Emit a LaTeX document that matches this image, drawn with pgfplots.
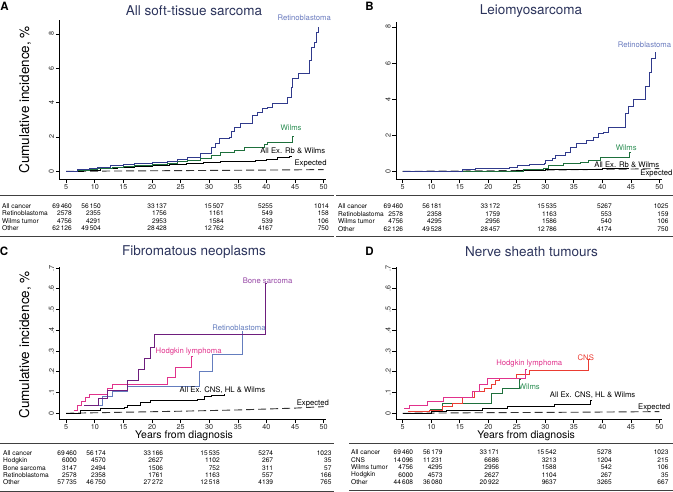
\documentclass[border=0pt]{standalone}
\usepackage{fontspec}
\setmainfont{TeX Gyre Heros}
\usepackage{pgfplots}
\pgfplotsset{compat=1.18}
\definecolor{ttl}{RGB}{44,52,92}
\definecolor{retline}{RGB}{48,58,140}
\definecolor{retlab}{RGB}{105,122,190}
\definecolor{retC}{RGB}{100,125,190}
\definecolor{wline}{RGB}{30,112,60}
\definecolor{wlab}{RGB}{40,140,80}
\definecolor{boneline}{RGB}{110,30,125}
\definecolor{bonelab}{RGB}{150,70,165}
\definecolor{hod}{RGB}{225,50,140}
\definecolor{cns}{RGB}{235,60,50}
\pgfplotsset{
 panel/.style={
  scale only axis, anchor=south west,
  axis lines=left, axis line style={-, line width=0.7pt, black},
  xmin=3.8, xmax=50.4,
  xtick={5,10,...,50}, xticklabels={5,10,15,20,25,30,35,40,45,50},
  tick align=outside, tick style={black, line width=0.6pt}, major tick length=3.5pt,
  ticklabel style={font=\fontsize{7.2}{8}\selectfont, text=black!85, inner sep=1.5pt},
  yticklabel style={rotate=90, anchor=south},
  clip=false,
  every axis plot/.append style={line width=0.85pt},
 },
 ylab/.style={ylabel={Cumulative incidence, \%}, ylabel style={at={(axis description cs:-0.1286,#1)}, anchor=center, rotate=0, font=\fontsize{13.5}{15}\selectfont}},
 xlab/.style={xlabel={Years from diagnosis}, xlabel style={at={(axis description cs:#1,-0.109)}, anchor=center, font=\fontsize{10.5}{12}\selectfont}},
}
\tikzset{
 lab/.style={font=\fontsize{7.7}{9}\selectfont, inner sep=0pt},
 tabf/.style={font=\fontsize{6.6}{7}\selectfont, inner sep=0pt},
 ttlf/.style={font=\fontsize{13.5}{15}\selectfont, text=ttl, inner sep=0pt},
 letf/.style={font=\fontsize{11.5}{13}\selectfont\bfseries, inner sep=0pt},
 expd/.style={black!80, line width=0.9pt, dash pattern=on 8pt off 4pt},
}
\newcommand\TRow[8]{%
 \node[tabf,anchor=west] at (\lx,{492-#1}) {#2};
 \node[tabf,anchor=east] at (\ca,{492-#1}) {#3};
 \node[tabf,anchor=east] at (\cb,{492-#1}) {#4};
 \node[tabf,anchor=east] at (\cc,{492-#1}) {#5};
 \node[tabf,anchor=east] at (\cd,{492-#1}) {#6};
 \node[tabf,anchor=east] at (\ce,{492-#1}) {#7};
 \node[tabf,anchor=east] at (\cf,{492-#1}) {#8};}
\begin{document}
\begin{tikzpicture}[x=1pt,y=1pt]
\path[use as bounding box] (0,0) rectangle (673,492);

% ---------- Panel A ----------
\begin{axis}[panel, at={(59.3pt,312.7pt)}, width=266.7pt, height=159.3pt,
  ymin=-0.466, ymax=8.81, ytick={0,2,4,6,8}, yticklabels={0,2,4,6,8}, ylab=0.498]
\addplot[expd] coordinates {(5,0) (15,0.02) (25,0.04) (35,0.06) (45,0.085) (50,0.1)};
\addplot[const plot, black] coordinates {(5,0) (8,0.06) (11,0.15) (14,0.22) (17,0.3) (20,0.36) (23,0.41) (26,0.46) (29,0.5) (32,0.55) (35,0.6) (38,0.66) (40,0.72) (42,0.79) (44,0.85) (44.5,0.85)};
\addplot[const plot, wline] coordinates {(5,0) (7,0.05) (9,0.1) (10.4,0.15) (13,0.22) (15,0.28) (16.9,0.35) (20,0.4) (22.7,0.45) (24.5,0.55) (26.2,0.64) (28.5,0.75) (30.3,0.93) (32,1.12) (34.4,1.22) (36.1,1.41) (39.6,1.57) (40.2,1.7) (44.6,2.03) (44.7,2.03)};
\addplot[const plot, retline] coordinates {(5,0) (7,0.08) (9,0.15) (10.4,0.25) (12.8,0.35) (15,0.4) (16.9,0.45) (20,0.52) (22.7,0.6) (24.5,0.7) (26.2,0.83) (28.5,1.03) (30.3,1.4) (31.1,1.6) (31.7,1.9) (33.5,2.0) (33.8,2.3) (34.4,2.58) (35.5,2.77) (37.6,3.26) (38.5,3.45) (39.3,3.64) (40.2,3.7) (41,3.93) (43.7,4.32) (44.3,4.9) (44.6,5.39) (45.5,5.72) (47.5,6.45) (47.8,7.23) (48.4,7.52) (48.7,8.1) (49,8.4) (49.1,8.4)};
\node[lab, text=retlab] at (axis cs:46.6,8.95) {Retinoblastoma};
\node[lab, text=wlab] at (axis cs:44.3,2.54) {Wilms};
\node[lab] at (axis cs:44.6,1.17) {All Ex. Rb \& Wilms};
\node[lab] at (axis cs:47.7,0.45) {Expected};
\end{axis}

% ---------- Panel B ----------
\begin{axis}[panel, at={(395.9pt,312.7pt)}, width=265.7pt, height=157.6pt,
  ymin=-0.44, ymax=8.29, ytick={0,2,4,6,8}, yticklabels={0,2,4,6,8}]
\addplot[expd] coordinates {(5,0) (20,0.03) (30,0.07) (40,0.11) (50,0.15)};
\addplot[const plot, black] coordinates {(5,0) (20,0.02) (25,0.05) (30,0.09) (35,0.13) (40,0.16) (44.5,0.18) (44.6,0.18)};
\addplot[const plot, wline] coordinates {(5,0) (26.2,0.09) (29.7,0.15) (30.6,0.33) (33.2,0.43) (36.2,0.52) (37.6,0.61) (39.7,0.76) (44.8,1.07) (44.9,1.07)};
\addplot[const plot, retline] coordinates {(5,0) (10.3,0.02) (15.5,0.09) (17.8,0.15) (23.7,0.24) (25.2,0.33) (27.2,0.39) (29.8,0.43) (30.1,0.61) (31.2,0.7) (31.7,0.89) (33.5,1.07) (34.4,1.35) (35.5,1.53) (37.3,1.72) (38.5,1.9) (39.4,2.09) (40.2,2.18) (41.1,2.46) (44.1,3.2) (44.6,3.57) (45.5,3.97) (47.6,4.68) (48.2,5.5) (48.7,6.25) (49.3,6.6) (49.4,6.6)};
\node[lab, text=retlab] at (axis cs:47.4,7.02) {Retinoblastoma};
\node[lab, text=wlab] at (axis cs:44.2,1.28) {Wilms};
\node[lab] at (axis cs:44.3,0.39) {All Ex. Rb \& Wilms};
\node[lab] at (axis cs:49.5,-0.13) {Expected};
\end{axis}

% ---------- Panel C ----------
\begin{axis}[panel, at={(59.3pt,72.7pt)}, width=266.7pt, height=152.6pt,
  ymin=-0.029, ymax=0.7065, ytick={0,0.1,...,0.7}, yticklabels={0,.1,.2,.3,.4,.5,.6,.7}, ylab=0.487, xlab=0.4676]
\addplot[expd] coordinates {(5,0) (15,0.005) (25,0.01) (35,0.016) (45,0.025) (50,0.032)};
\addplot[const plot, black] coordinates {(5,0) (7.5,0.016) (11,0.024) (15.1,0.027) (15.7,0.04) (18,0.053) (19.8,0.06) (22,0.062) (25,0.064) (28,0.067) (29.1,0.08) (30.3,0.085) (32.6,0.092) (32.7,0.092)};
\addplot[const plot, retC] coordinates {(8.1,0.037) (11.3,0.08) (13.1,0.105) (15.7,0.129) (28.2,0.201) (30.6,0.285) (35.8,0.395) (35.9,0.395)};
\addplot[const plot, hod] coordinates {(6.3,0.016) (6.9,0.037) (7.7,0.056) (8.4,0.076) (9,0.093) (12.2,0.121) (13,0.14) (22.7,0.172) (24.1,0.22) (26.9,0.274) (27,0.274)};
\addplot[const plot, boneline] coordinates {(8.1,0.037) (10.7,0.072) (12.2,0.11) (15.7,0.156) (17.7,0.209) (18.6,0.262) (19.8,0.319) (20.4,0.378) (39.9,0.628) (40,0.628)};
\node[lab, text=bonelab] at (axis cs:40.2,0.641) {Bone sarcoma};
\node[lab, text=retC] at (axis cs:35.2,0.411) {Retinoblastoma};
\node[lab, text=hod] at (axis cs:26.4,0.298) {Hodgkin lymphoma};
\node[lab] at (axis cs:32.3,0.109) {All Ex. CNS, HL \& Wilms};
\node[lab] at (axis cs:48.1,0.048) {Expected};
\end{axis}

% ---------- Panel D ----------
\begin{axis}[panel, at={(395.9pt,72.7pt)}, width=265.7pt, height=152.6pt,
  ymin=-0.029, ymax=0.7065, ytick={0,0.1,...,0.7}, yticklabels={0,.1,.2,.3,.4,.5,.6,.7}, xlab=0.49]
\addplot[expd] coordinates {(5,0) (20,0.003) (35,0.005) (50,0.008)};
\addplot[const plot, black] coordinates {(5,0) (10,0.008) (12.6,0.016) (18.9,0.024) (23.4,0.032) (31.6,0.043) (38,0.064) (38.1,0.064)};
\addplot[const plot, wline] coordinates {(9.7,0.02) (12,0.048) (20.5,0.097) (22.5,0.121) (25.5,0.161) (25.6,0.161)};
\addplot[const plot, cns] coordinates {(5.9,0.011) (9.7,0.016) (12,0.032) (13.8,0.048) (15.5,0.076) (17.6,0.105) (19.3,0.121) (20.5,0.137) (21.3,0.156) (22,0.169) (24.9,0.185) (27.2,0.205) (37.6,0.258) (37.7,0.258)};
\addplot[const plot, hod] coordinates {(5.3,0.024) (6.2,0.037) (9.4,0.059) (12.2,0.077) (17.3,0.105) (18.4,0.137) (19.8,0.169) (26.6,0.209) (26.7,0.209)};
\node[lab, text=cns] at (axis cs:37.1,0.266) {CNS};
\node[lab, text=hod] at (axis cs:27.2,0.238) {Hodgkin lymphoma};
\node[lab, text=wlab] at (axis cs:27.2,0.129) {Wilms};
\node[lab] at (axis cs:38.3,0.089) {All Ex. CNS, HL \& Wilms};
\node[lab] at (axis cs:49.1,0.029) {Expected};
\end{axis}

% ---------- Titles and panel letters ----------
\node[ttlf] at (194,481) {All soft-tissue sarcoma};
\node[ttlf] at (531,481) {Leiomyosarcoma};
\node[ttlf] at (194,240.3) {Fibromatous neoplasms};
\node[ttlf] at (531.5,240.3) {Nerve sheath tumours};
\node[letf] at (4.5,485.3) {A};
\node[letf] at (369.5,485.3) {B};
\node[letf] at (4,240.3) {C};
\node[letf] at (369.5,240.3) {D};

% ---------- At-risk tables ----------
\draw[black!75, line width=0.8pt] (0,297) -- (334,297) (0,256) -- (334,256);
\draw[black!75, line width=0.8pt] (336,297) -- (673,297) (336,256) -- (673,256);
\draw[black!75, line width=0.8pt] (0,48.7) -- (334,48.7) (0,1) -- (334,1);
\draw[black!75, line width=0.8pt] (349,48.7) -- (673,48.7) (349,2) -- (673,2);

\def\lx{2}\def\ca{72}\def\cb{101}\def\cc{167}\def\cd{224}\def\ce{273}\def\cf{329}
\TRow{206}{All cancer}{69\,460}{56\,150}{33\,137}{15\,507}{5255}{1014}
\TRow{213.5}{Retinoblastoma}{2578}{2355}{1756}{1161}{549}{158}
\TRow{221}{Wilms tumor}{4756}{4291}{2953}{1584}{539}{106}
\TRow{228.5}{Other}{62\,126}{49\,504}{28\,428}{12\,762}{4167}{750}

\def\lx{338}\def\ca{403.3}\def\cb{442}\def\cc{500.3}\def\cd{557}\def\ce{612}\def\cf{668.7}
\TRow{206.5}{All cancer}{69\,460}{56\,181}{33\,172}{15\,535}{5267}{1025}
\TRow{214}{Retinoblastoma}{2578}{2358}{1759}{1163}{553}{159}
\TRow{221.5}{Wilms tumor}{4756}{4295}{2956}{1586}{540}{106}
\TRow{229}{Other}{62\,126}{49\,528}{28\,457}{12\,786}{4174}{750}

\def\lx{3}\def\ca{77}\def\cb{106}\def\cc{163.3}\def\cd{220}\def\ce{273.3}\def\cf{331.7}
\TRow{453.3}{All cancer}{69\,460}{56\,174}{33\,166}{15\,535}{5274}{1023}
\TRow{460.5}{Hodgkin}{6000}{4570}{2627}{1102}{267}{35}
\TRow{467.8}{Bone sarcoma}{3147}{2494}{1506}{752}{311}{57}
\TRow{475}{Retinoblastoma}{2578}{2358}{1761}{1163}{557}{166}
\TRow{482.3}{Other}{57\,735}{46\,750}{27\,272}{12\,518}{4139}{765}

\def\lx{351}\def\ca{413.3}\def\cb{442.7}\def\cc{499.3}\def\cd{556.7}\def\ce{612}\def\cf{668.7}
\TRow{452.5}{All cancer}{69\,460}{56\,179}{33\,171}{15\,542}{5278}{1023}
\TRow{460}{CNS}{14\,096}{11\,231}{6686}{3213}{1204}{215}
\TRow{467.3}{Wilms tumor}{4756}{4295}{2956}{1588}{542}{106}
\TRow{475}{Hodgkin}{6000}{4573}{2627}{1104}{267}{35}
\TRow{482.3}{Other}{44\,608}{36\,080}{20\,922}{9637}{3265}{667}
\end{tikzpicture}
\end{document}
